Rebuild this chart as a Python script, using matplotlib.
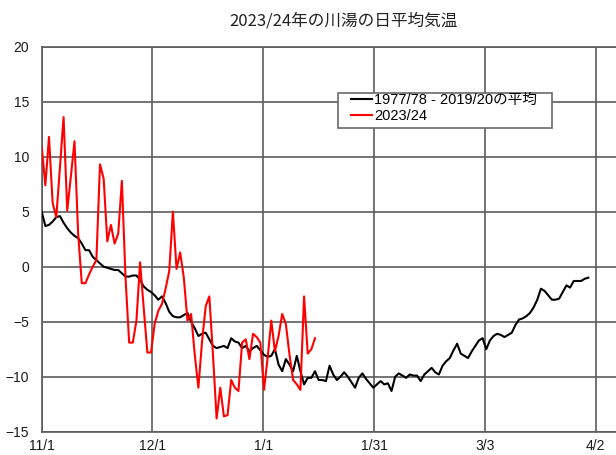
import numpy as np
import matplotlib
matplotlib.use("Agg")
import matplotlib.pyplot as plt
from matplotlib.patches import Rectangle

plt.rcParams['font.family'] = ['Liberation Sans', 'Noto Sans CJK JP']

title = "2023/24年の川湯の日平均気温"

# Daily mean temperature (°C); index 0 = 11/1
normal_label = "1977/78 - 2019/20の平均"
normal_temp = [
    5.0, 3.7, 3.8, 4.1, 4.5, 4.6, 4.0, 3.5, 3.1, 2.8,
    2.6, 2.1, 1.5, 1.5, 0.9, 0.6, 0.3, 0.0, -0.1, -0.2,
    -0.3, -0.3, -0.6, -0.9, -0.9, -0.8, -0.8, -1.2, -1.8, -2.1,
    -2.3, -2.6, -3.0, -2.7, -3.3, -4.1, -4.5, -4.6, -4.6, -4.4,
    -4.2, -5.0, -5.6, -6.3, -6.1, -6.0, -6.6, -7.2, -7.4, -7.3,
    -7.2, -7.4, -6.5, -6.8, -6.9, -7.4, -7.2, -7.7, -7.4, -7.2,
    -7.6, -8.0, -8.2, -8.1, -7.5, -8.9, -9.5, -8.4, -8.9, -9.5,
    -8.1, -9.5, -10.7, -10.1, -10.1, -9.5, -10.3, -10.3, -10.4, -9.0,
    -9.8, -10.3, -10.0, -9.6, -10.0, -10.5, -11.0, -10.1, -9.7, -10.2,
    -10.6, -11.0, -10.7, -10.4, -10.7, -10.6, -11.3, -10.0, -9.7, -9.9,
    -10.1, -9.8, -9.9, -9.9, -10.4, -9.8, -9.5, -9.2, -9.6, -9.8,
    -9.0, -8.6, -8.3, -7.6, -7.0, -7.9, -8.1, -8.3, -7.7, -7.2,
    -6.7, -6.5, -7.5, -6.7, -6.3, -6.1, -6.2, -6.4, -6.2, -6.0,
    -5.3, -4.8, -4.7, -4.5, -4.2, -3.7, -3.0, -2.0, -2.2, -2.6,
    -3.0, -3.0, -2.9, -2.3, -1.7, -1.9, -1.3, -1.3, -1.3, -1.1,
    -1.0,
]

season_label = "2023/24"
season_temp = [
    10.9, 7.4, 11.8, 5.8, 4.5, 9.0, 13.6, 5.1, 8.2, 11.4,
    3.0, -1.5, -1.5, -0.7, 0.0, 0.6, 9.3, 8.0, 2.3, 3.8,
    2.1, 3.0, 7.8, -1.0, -6.9, -6.9, -4.9, 0.4, -3.8, -7.8,
    -7.8, -5.2, -4.0, -3.4, -2.0, -0.4, 5.0, -0.2, 1.3, -1.0,
    -4.9, -4.3, -8.0, -11.0, -6.8, -3.6, -2.7, -8.0, -13.8, -11.0,
    -13.6, -13.5, -10.3, -11.0, -11.3, -6.9, -6.6, -8.4, -6.1, -6.4,
    -6.9, -11.2, -8.3, -4.9, -7.7, -6.3, -4.3, -5.2, -8.0, -10.3,
    -10.7, -11.2, -2.7, -7.9, -7.5, -6.5,
]

tick_days = [0, 30.4, 60.8, 91.2, 121.6, 152]
tick_labels = ["11/1", "12/1", "1/1", "1/31", "3/3", "4/2"]
y_ticks = [20, 15, 10, 5, 0, -5, -10, -15]

grid_col = "#5c5c5c"
text_col = "#1a1a1a"

fig = plt.figure(figsize=(6.16, 4.55), dpi=100)
ax = fig.add_axes([0.0677, 0.0512, 0.9323, 0.8462])

ax.plot(np.arange(len(normal_temp)), normal_temp, color="black", lw=1.5,
        label=normal_label, zorder=3)
ax.plot(np.arange(len(season_temp)), season_temp, color="red", lw=1.5,
        label=season_label, zorder=3)

ax.set_xlim(0, 157.6)
ax.set_ylim(-15, 20)
ax.set_xticks(tick_days)
ax.set_xticklabels(tick_labels)
ax.set_yticks(y_ticks)
ax.grid(True, color=grid_col, lw=1.2)
ax.set_axisbelow(True)
ax.tick_params(length=0, labelsize=10, labelcolor=text_col)
ax.tick_params(axis="y", pad=9)
ax.tick_params(axis="x", pad=5)
ax.spines["right"].set_visible(False)
for side in ("left", "bottom", "top"):
    ax.spines[side].set_color(grid_col)
    ax.spines[side].set_linewidth(1.2)

# legend frame and entries
ax.add_patch(Rectangle((0.5165, 0.788), 0.3715, 0.091, transform=ax.transAxes,
                       facecolor="white", edgecolor="#6a6a6a", lw=1.2, zorder=4))
leg = ax.legend(loc="upper left", bbox_to_anchor=(0.5381, 0.879), frameon=False,
                borderpad=0, borderaxespad=0, handlelength=1.44,
                handletextpad=0.16, labelspacing=0.15, fontsize=10.5)
leg.set_zorder(5)

fig.text(0.558, 0.954, title, ha="center", va="center", fontsize=12,
         family=["Noto Sans CJK JP"], color="#222222")

fig.savefig("out.png", dpi=100)
